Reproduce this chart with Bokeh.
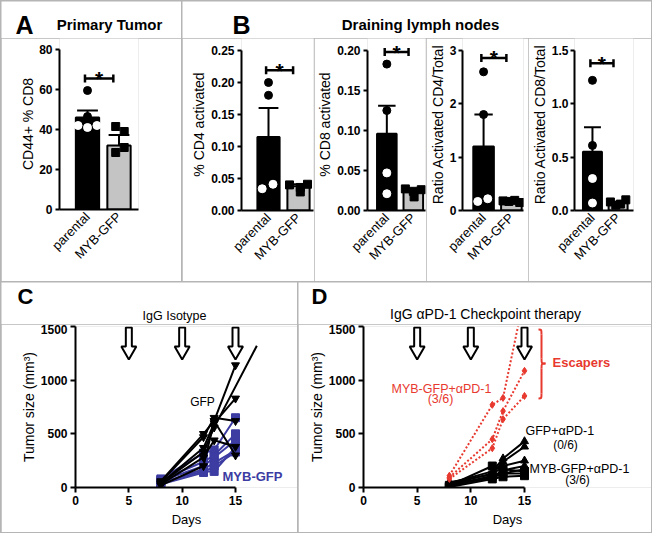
import math
from bokeh.plotting import figure
from bokeh.models import Range1d, FixedTicker, Label, ColumnDataSource, PrintfTickFormatter
from bokeh.layouts import row, column
from bokeh.embed import file_html
from bokeh.resources import INLINE

FONT = "Liberation Sans"
BLACK = "black"
GRAY = "#c4c4c4"
BLUE = "#3c3ca2"
RED = "#e8392f"
SEP = "#b5b5b5"

# ---------------- data ----------------
groups = ["parental", "MYB-GFP"]

# Panel A : CD44+ % CD8 in primary tumor
a_mean = [46.0, 32.0]
a_err = [3.5, 5.3]
a_parental = [59.5, 46.5, 42, 41, 42]
a_myb = [41.5, 39, 31, 28.5]
a_sig = 65.5

# Panel B : draining lymph nodes
b1_mean = [0.115, 0.038]
b1_err = [0.045, 0.003]
b1_parental = [0.200, 0.180, 0.034, 0.041]
b1_myb = [0.040, 0.041, 0.036, 0.029]
b1_sig = 0.219

b2_mean = [0.096, 0.023]
b2_err = [0.035, 0.003]
b2_parental = [0.183, 0.125, 0.047, 0.021]
b2_myb = [0.027, 0.026, 0.024, 0.017]
b2_sig = 0.198

b3_mean = [1.20, 0.17]
b3_err = [0.60, 0.02]
b3_parental = [2.60, 1.80, 0.17, 0.22]
b3_myb = [0.18, 0.17, 0.19, 0.15]
b3_sig = 2.86

b4_mean = [0.55, 0.07]
b4_err = [0.23, 0.01]
b4_parental = [1.22, 0.61, 0.30, 0.07]
b4_myb = [0.08, 0.05, 0.06, 0.10]
b4_sig = 1.38

# Panels C/D : tumor growth
days = [8, 12, 13, 15]
treat_days = [5, 10, 15]

c_gfp_days = [days, days, days, days, days, [8, 12, 13, 17]]
c_gfp = [
    [60, 500, 620, 1140],
    [50, 470, 650, 620],
    [40, 370, 600, 830],
    [30, 280, 440, 380],
    [20, 200, 620, 300],
    [40, 330, 560, 1320],
]
c_myb = [
    [80, 320, 350, 650],
    [70, 240, 300, 500],
    [60, 200, 280, 440],
    [50, 150, 150, 375],
    [40, 170, 230, 345],
    [30, 140, 200, 330],
]

d_gfp = [
    [40, 150, 270, 430],
    [30, 130, 240, 380],
    [50, 120, 200, 250],
    [30, 100, 160, 200],
    [20, 90, 130, 170],
]
d_myb = [
    [20, 200, 170, 150],
    [10, 110, 130, 130],
    [5, 80, 100, 110],
]
d_escapers = [
    [110, 770, 835, 1790],
    [95, 450, 712, 1087],
    [80, 366, 637, 853],
]

# horizontal scatter of the dots (layout only)
JIT = 0.3
a_pj, a_mj = [0, 0, -1, 0, 1], [-0.35, 0.55, 0.55, -0.35]
b1_pj, b1_mj = [0, 0, -0.7, 0.5], [-1, 1, 0.2, 0.2]
b2_pj, b2_mj = [0, 0, 0, 0], [-1, 1, 0, 0.1]
b3_pj, b3_mj = [0, 0, -0.7, 0.5], [-1, -0.3, 0.4, 1]
b4_pj, b4_mj = [0, 0, 0, 0], [-1, -0.3, 0.3, 1]

GEO = {}


# ---------------- helpers ----------------
def make_fig(fig_box, frame_box, xr, yr, axes=True):
    fx0, fy0, fx1, fy1 = fig_box
    gx0, gy0, gx1, gy1 = frame_box
    kw = {}
    if not axes:
        kw = dict(x_axis_type=None, y_axis_type=None)
    p = figure(width=fx1 - fx0, height=fy1 - fy0, title=None,
               x_range=Range1d(*xr), y_range=Range1d(*yr),
               output_backend="svg", toolbar_location=None, frame_align=False,
               min_border_left=gx0 - fx0, min_border_right=fx1 - gx1,
               min_border_top=gy0 - fy0, min_border_bottom=fy1 - gy1, **kw)
    p.outline_line_color = None
    p.background_fill_color = "white"
    p.border_fill_color = "white"
    if axes:
        p.xgrid.visible = False
        p.ygrid.visible = False
    GEO[p.id] = (frame_box, xr, yr)
    return p


def header(fig_box):
    fx0, fy0, fx1, fy1 = fig_box
    return make_fig(fig_box, fig_box, (0, fx1 - fx0), (0, fy1 - fy0), axes=False)


def to_data(p, px, py):
    (gx0, gy0, gx1, gy1), xr, yr = GEO[p.id]
    x = xr[0] + (px - gx0) * (xr[1] - xr[0]) / (gx1 - gx0)
    y = yr[0] + (gy1 - py) * (yr[1] - yr[0]) / (gy1 - gy0)
    return x, y


def px_per_unit_y(p):
    (gx0, gy0, gx1, gy1), xr, yr = GEO[p.id]
    return (gy1 - gy0) / (yr[1] - yr[0])


def lab(p, px, py, text, size, bold=False, color=BLACK, align="left"):
    # py is the wanted baseline of the text (page pixels)
    x, y = to_data(p, px, py)
    p.add_layout(Label(x=x, y=y, y_offset=0.25 * size + 1.5, text=text, text_font=FONT,
                       text_font_size=f"{size}px",
                       text_font_style="bold" if bold else "normal", text_color=color,
                       text_align=align, text_baseline="alphabetic"))


def style_axes(p, tick_std=3, lab_std=3, tick_out=4):
    for ax in p.axis:
        ax.axis_line_width = 2
        ax.axis_line_color = BLACK
        ax.major_tick_line_width = 2
        ax.major_tick_line_color = BLACK
        ax.major_tick_in = 0
        ax.major_tick_out = tick_out
        ax.minor_tick_line_color = None
        ax.major_label_text_font = FONT
        ax.major_label_text_font_size = "12px"
        ax.major_label_text_font_style = "bold"
        ax.major_label_text_color = BLACK
        ax.axis_label_text_font = FONT
        ax.axis_label_text_font_size = "14px"
        ax.axis_label_text_font_style = "normal"
        ax.axis_label_text_color = BLACK
        ax.major_label_standoff = tick_std
        ax.axis_label_standoff = lab_std


def bar_fig(fig_box, frame_box, c1_px, unit_px, ytop, ytop_px, yticks, fmt, ylabel,
            mean, err, par, myb, pj, mj, sig, tick_std=3, lab_std=1):
    gx0, gy0, gx1, gy1 = frame_box
    x0 = 1 - (c1_px - gx0) / unit_px
    x1 = x0 + (gx1 - gx0) / unit_px
    ppu = (gy1 - ytop_px) / ytop
    y1 = (gy1 - gy0) / ppu
    p = make_fig(fig_box, frame_box, (x0, x1), (0, y1))
    src = ColumnDataSource(dict(x=[1, 2], top=mean, color=[BLACK, GRAY]))
    p.vbar(x="x", top="top", bottom=0, width=0.74, fill_color="color",
           line_color=BLACK, line_width=2, source=src)
    tops = [m + e for m, e in zip(mean, err)]
    p.segment(x0=[1, 2], y0=mean, x1=[1, 2], y1=tops, line_color=BLACK, line_width=2)
    p.segment(x0=[0.67, 1.67], y0=tops, x1=[1.33, 2.33], y1=tops, line_color=BLACK, line_width=2)
    pc = ["white" if v < mean[0] else BLACK for v in par]
    p.scatter(x=[1 + j * JIT for j in pj], y=par, marker="circle", size=8,
              fill_color=pc, line_color=pc)
    p.scatter(x=[2 + j * JIT for j in mj], y=myb, marker="square", size=8,
              fill_color=BLACK, line_color=BLACK)
    tk = 4 / ppu
    p.segment(x0=[0.92], y0=[sig], x1=[1.82], y1=[sig], line_color=BLACK, line_width=2.5)
    p.segment(x0=[0.92, 1.82], y0=[sig - tk] * 2, x1=[0.92, 1.82], y1=[sig + tk] * 2,
              line_color=BLACK, line_width=2.5)
    p.add_layout(Label(x=1.37, y=sig, y_offset=0, text="*", text_font=FONT, text_font_size="21px",
                       text_font_style="bold", text_color=BLACK,
                       text_align="center", text_baseline="alphabetic"))
    style_axes(p, tick_std, lab_std)
    yax = p.yaxis[0]
    yax.ticker = FixedTicker(ticks=yticks)
    yax.formatter = fmt
    yax.bounds = (0, ytop)
    yax.axis_label = ylabel
    xax = p.xaxis[0]
    xax.ticker = FixedTicker(ticks=[1, 2])
    xax.major_label_overrides = {1: groups[0], 2: groups[1]}
    xax.major_label_orientation = math.pi / 4
    xax.major_tick_out = 0
    xax.major_label_standoff = 5
    xax.major_label_text_font_style = "normal"
    xax.major_label_text_font_size = "13px"
    return p


def growth_fig(fig_box, frame_box, ppd):
    gx0, gy0, gx1, gy1 = frame_box
    xr = (0, (gx1 - gx0) / ppd)
    yr = (0, 1500)
    p = make_fig(fig_box, frame_box, xr, yr)
    ppu = (gy1 - gy0) / 1500
    hs, hh = 3 / ppd, 7.5 / ppd
    top = 1500 - 1 / ppu
    sh, tip = top - 19 / ppu, top - 32 / ppu
    xs = [[d - hs, d + hs, d + hs, d + hh, d, d - hh, d - hs] for d in treat_days]
    ys = [[top, top, sh, sh, tip, sh, sh] for d in treat_days]
    p.patches(xs, ys, fill_color="white", line_color=BLACK, line_width=2)
    style_axes(p, tick_std=3, lab_std=1, tick_out=5)
    p.yaxis[0].ticker = FixedTicker(ticks=[0, 500, 1000, 1500])
    p.yaxis[0].bounds = (0, 1500)
    p.yaxis[0].axis_label = "Tumor size (mm³)"
    p.xaxis[0].ticker = FixedTicker(ticks=[0, 5, 10, 15])
    p.xaxis[0].bounds = (0, 15)
    p.xaxis[0].axis_label = "Days"
    p.xaxis[0].axis_label_standoff = 4
    p.xaxis[0].axis_label_text_font_size = "13px"
    return p


def mice(p, dlist, vlist, color, marker, dash="solid", size=8):
    for dd, vv in zip(dlist, vlist):
        p.line(dd, vv, line_color=color, line_width=2, line_dash=dash)
    for dd, vv in zip(dlist, vlist):
        mx = [d for d in dd if d <= 15]
        my = [v for d, v in zip(dd, vv) if d <= 15]
        p.scatter(mx, my, marker=marker, size=size, fill_color=color, line_color=color)


# ---------------- Panel A ----------------
headA = header((1, 1, 181, 38))
lab(headA, 15, 32.5, "A", 25, bold=True)
lab(headA, 109, 29.5, "Primary Tumor", 15, bold=True, align="center")
figA = bar_fig((1, 38, 181, 281), (59, 38, 138, 209), 87, 31.5, 80, 49, [0, 20, 40, 60, 80],
               PrintfTickFormatter(format="%d"), "CD44+ % CD8",
               a_mean, a_err, a_parental, a_myb, a_pj, a_mj, a_sig, lab_std=0)

# ---------------- Panel B ----------------
headB = header((182, 1, 651, 38))
lab(headB, 232, 32.5, "B", 25, bold=True)
lab(headB, 420, 29, "Draining lymph nodes", 15, bold=True, align="center")

b1 = bar_fig((182, 38, 314, 281), (241, 38, 313, 210), 268, 30, 0.25, 50,
             [0, 0.05, 0.10, 0.15, 0.20, 0.25], PrintfTickFormatter(format="%.2f"),
             "% CD4 activated", b1_mean, b1_err, b1_parental, b1_myb, b1_pj, b1_mj, b1_sig)
b2 = bar_fig((314, 38, 426, 281), (356, 38, 425, 210), 379, 31.5, 0.20, 50,
             [0, 0.05, 0.10, 0.15, 0.20], PrintfTickFormatter(format="%.2f"),
             "% CD8 activated", b2_mean, b2_err, b2_parental, b2_myb, b2_pj, b2_mj, b2_sig)
b3 = bar_fig((426, 38, 528, 281), (455, 38, 523, 210), 478.5, 31, 3, 50,
             [0, 1, 2, 3], PrintfTickFormatter(format="%d"),
             "Ratio Activated CD4/Total", b3_mean, b3_err, b3_parental, b3_myb, b3_pj, b3_mj, b3_sig,
             tick_std=2, lab_std=1)
b4 = bar_fig((528, 38, 651, 281), (564, 38, 633, 210), 585, 30, 1.5, 50,
             [0, 0.5, 1.0, 1.5], PrintfTickFormatter(format="%.1f"),
             "Ratio Activated CD8/Total", b4_mean, b4_err, b4_parental, b4_myb, b4_pj, b4_mj, b4_sig,
             tick_std=2, lab_std=1)

# ---------------- Panel C ----------------
headC = header((1, 282, 297, 324))
lab(headC, 17, 303, "C", 22, bold=True)
lab(headC, 174, 320, "IgG Isotype", 12.5, align="center")
figC = growth_fig((1, 324, 297, 532), (75, 326, 297, 487), 160 / 15)
mice(figC, [days] * len(c_myb), c_myb, BLUE, "square")
mice(figC, c_gfp_days, c_gfp, BLACK, "inverted_triangle")
lab(figC, 202, 406, "GFP", 12, align="center")
lab(figC, 252, 481, "MYB-GFP", 13, bold=True, color=BLUE, align="center")

# ---------------- Panel D ----------------
headD = header((298, 282, 651, 324))
lab(headD, 311, 303, "D", 22, bold=True)
lab(headD, 485, 318, "IgG αPD-1 Checkpoint therapy", 14, align="center")
figD = growth_fig((298, 324, 651, 532), (363, 326, 651, 487), 161 / 15)
mice(figD, [days] * len(d_gfp), d_gfp, BLACK, "triangle")
mice(figD, [days] * len(d_myb), d_myb, BLACK, "square")
mice(figD, [days] * len(d_escapers), d_escapers, RED, "diamond", dash="2 2", size=7)

# curly brace marking the escapers
bx_end, by_top = to_data(figD, 538, 329)
bx_sp, by_bot = to_data(figD, 541, 398)
bx_tip, by_mid = to_data(figD, 545, 363)
r = 5 / px_per_unit_y(figD)
figD.bezier(x0=[bx_end, bx_sp, bx_tip, bx_sp], y0=[by_top, by_mid + r, by_mid, by_bot + r],
            x1=[bx_sp, bx_tip, bx_sp, bx_end], y1=[by_top - r, by_mid, by_mid - r, by_bot],
            cx0=[bx_sp, bx_sp, bx_sp, bx_sp], cy0=[by_top, by_mid, by_mid, by_bot],
            cx1=[bx_sp, bx_sp, bx_sp, bx_sp], cy1=[by_top, by_mid, by_mid, by_bot],
            line_color=RED, line_width=2)
figD.segment(x0=[bx_sp, bx_sp], y0=[by_top - r, by_mid - r], x1=[bx_sp, bx_sp],
             y1=[by_mid + r, by_bot + r], line_color=RED, line_width=2)

lab(figD, 441, 393, "MYB-GFP+αPD-1", 12.5, color=RED, align="center")
lab(figD, 440, 403, "(3/6)", 12.5, color=RED, align="center")
lab(figD, 552, 367, "Escapers", 13, bold=True, color=RED)
lab(figD, 525, 435, "GFP+αPD-1", 12.5)
lab(figD, 565, 449, "(0/6)", 12, align="center")
lab(figD, 529, 473, "MYB-GFP+αPD-1", 12.5)
lab(figD, 577, 483.5, "(3/6)", 12, align="center")

# ---------------- layout ----------------
colA = column(headA, figA, spacing=0)
colB = column(headB, row(b1, b2, b3, b4, spacing=0), spacing=0)
colC = column(headC, figC, spacing=0)
colD = column(headD, figD, spacing=0)
top_row = row(colA, colB, spacing=1)
bottom_row = row(colC, colD, spacing=1)
root = column(top_row, bottom_row, spacing=1,
              styles={"background-color": SEP, "padding": "1px"})

open("out.html", "w").write(file_html(root, INLINE))
